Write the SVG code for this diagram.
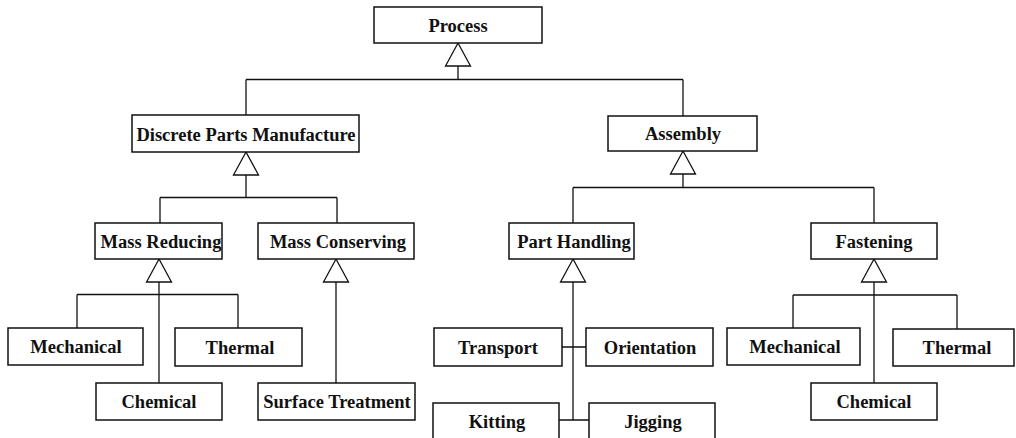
<svg xmlns="http://www.w3.org/2000/svg" xmlns:xlink="http://www.w3.org/1999/xlink" width="1016" height="438" viewBox="0 0 1016 438">
  <style>
    .box { fill: #ffffff; stroke: #111111; stroke-width: 1.5; }
    .lbl { font-family: "Liberation Serif", "Times New Roman", serif; font-weight: bold; font-size: 18.5px; fill: #111111; text-anchor: middle; }
    .wire { fill: none; stroke: #111111; stroke-width: 1.3; }
    .gen { fill: #ffffff; stroke: #111111; stroke-width: 1.3; stroke-linejoin: miter; }
  </style>
  <defs>
    <!-- hollow generalisation triangle, apex at origin pointing up -->
    <path id="tri" class="gen" d="M0 0 L12.5 23 L-12.5 23 Z"/>
  </defs>

  <rect width="1016" height="438" fill="#ffffff"/>

  <g id="connectors">
    <!-- Process -->
    <path class="wire" d="M458 66 V79.5 M246 79.5 H683 M246 79.5 V115 M683 79.5 V116"/>
    <use xlink:href="#tri" x="458" y="43"/>
    <!-- Discrete Parts Manufacture -->
    <path class="wire" d="M246 175 V197.5 M160 197.5 H337 M160 197.5 V223 M337 197.5 V223"/>
    <use xlink:href="#tri" x="246" y="152"/>
    <!-- Mass Reducing -->
    <path class="wire" d="M159 282 V383 M77 294.5 H238 M77 294.5 V328 M238 294.5 V328"/>
    <use xlink:href="#tri" x="159" y="259"/>
    <!-- Mass Conserving -->
    <path class="wire" d="M336 282 V383"/>
    <use xlink:href="#tri" x="336" y="259"/>
    <!-- Assembly -->
    <path class="wire" d="M683 174 V187.5 M573 187.5 H874 M573 187.5 V223 M874 187.5 V223"/>
    <use xlink:href="#tri" x="683" y="151"/>
    <!-- Part Handling -->
    <path class="wire" d="M573 282 V420 M562 347 H586 M559 420 H589"/>
    <use xlink:href="#tri" x="573" y="259"/>
    <!-- Fastening -->
    <path class="wire" d="M874 282 V383 M793 295 H957 M793 295 V328 M957 295 V329"/>
    <use xlink:href="#tri" x="874" y="259"/>
  </g>

  <g id="process"><rect class="box" x="374" y="7" width="168" height="36"/><text class="lbl" x="458" y="32">Process</text></g>
  <g id="discrete-parts-manufacture"><rect class="box" x="132" y="115" width="227" height="37"/><text class="lbl" x="246" y="140.5">Discrete Parts Manufacture</text></g>
  <g id="assembly"><rect class="box" x="608" y="116" width="149" height="35"/><text class="lbl" x="683" y="140">Assembly</text></g>

  <g id="mass-reducing"><rect class="box" x="95" y="223" width="127" height="36"/><text class="lbl" x="161" y="247.5">Mass Reducing</text></g>
  <g id="mass-conserving"><rect class="box" x="258" y="223" width="156" height="36"/><text class="lbl" x="338" y="247.5">Mass Conserving</text></g>
  <g id="part-handling"><rect class="box" x="509" y="223" width="125" height="36"/><text class="lbl" x="574" y="247.5">Part Handling</text></g>
  <g id="fastening"><rect class="box" x="811" y="223" width="126" height="36"/><text class="lbl" x="874" y="247.5">Fastening</text></g>

  <g id="mechanical-mr"><rect class="box" x="8" y="328" width="135" height="37"/><text class="lbl" x="76" y="353">Mechanical</text></g>
  <g id="thermal-mr"><rect class="box" x="175" y="328" width="127" height="38"/><text class="lbl" x="240" y="353.5">Thermal</text></g>
  <g id="chemical-mr"><rect class="box" x="96" y="383" width="126" height="37"/><text class="lbl" x="159" y="408">Chemical</text></g>
  <g id="surface-treatment"><rect class="box" x="258" y="383" width="157" height="37"/><text class="lbl" x="337" y="408">Surface Treatment</text></g>

  <g id="transport"><rect class="box" x="434" y="328" width="128" height="38"/><text class="lbl" x="498" y="353.5">Transport</text></g>
  <g id="orientation"><rect class="box" x="586" y="328" width="127" height="38"/><text class="lbl" x="650" y="353.5">Orientation</text></g>
  <g id="kitting"><rect class="box" x="433" y="403" width="126" height="36"/><text class="lbl" x="497" y="427.5">Kitting</text></g>
  <g id="jigging"><rect class="box" x="589" y="403" width="126" height="36"/><text class="lbl" x="653" y="427.5">Jigging</text></g>

  <g id="mechanical-f"><rect class="box" x="727" y="328" width="133" height="37"/><text class="lbl" x="795" y="353">Mechanical</text></g>
  <g id="thermal-f"><rect class="box" x="893" y="329" width="121" height="37"/><text class="lbl" x="957" y="354">Thermal</text></g>
  <g id="chemical-f"><rect class="box" x="811" y="383" width="126" height="37"/><text class="lbl" x="874" y="408">Chemical</text></g>
</svg>
